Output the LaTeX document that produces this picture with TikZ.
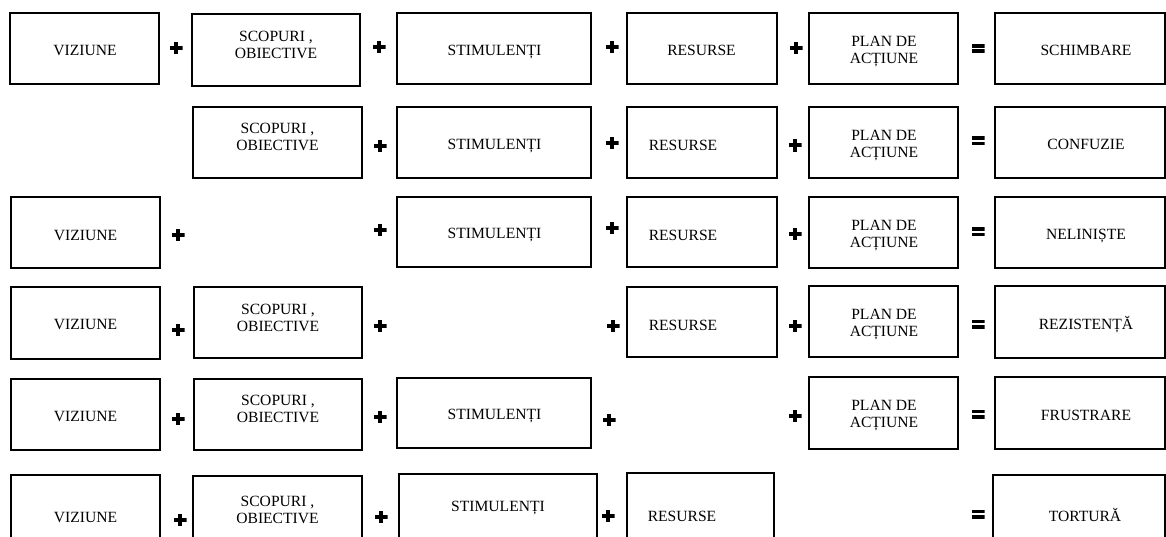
\documentclass[tikz,border=0pt]{standalone}
\usepackage{fontspec}
\setmainfont{Liberation Serif}
% \cellbox{name}{left}{top}{right}{bottom}{text x}{text y}{text style}{text}
\newcommand\cellbox[9]{%
  \node[cell, minimum width={(#4-#2)*1pt}, minimum height={(#5-#3)*1pt}] (#1) at ({(#2+#4)/2},{(#3+#5)/2}) {};
  \node[#8] (#1-t) at (#6,#7) {#9};}
\begin{document}
\begin{tikzpicture}[x=1pt,y=-1pt,
  cell/.style={draw=black, line width=1.2pt, inner sep=0pt, fill=white},
  lbl/.style={inner sep=0pt, font=\fontsize{15.6}{17}\selectfont, text height=10.3pt, text depth=0pt},
  lbltwo/.style={inner sep=0pt, font=\fontsize{15.6}{17}\selectfont, align=center},
  plusop/.style={minimum width=13pt, minimum height=12.5pt, inner sep=0pt,
    path picture={
      \fill ([xshift=-2pt]path picture bounding box.north) rectangle ([xshift=2pt]path picture bounding box.south);
      \fill ([yshift=2pt]path picture bounding box.west) rectangle ([yshift=-2pt]path picture bounding box.east);}},
  eqop/.style={minimum width=13pt, minimum height=9pt, inner sep=0pt,
    path picture={
      \fill (path picture bounding box.north west) rectangle ([yshift=-3.6pt]path picture bounding box.north east);
      \fill (path picture bounding box.south west) rectangle ([yshift=3.6pt]path picture bounding box.south east);}}]
\useasboundingbox (0,0) rectangle (1166,537);
\clip (0,0) rectangle (1166,537);
\fill[white] (0,0) rectangle (1166,537);

% row 1: change
\cellbox{a1}{10}{13}{159}{84}{85}{50}{lbl}{VIZIUNE}
\node[plusop] (p1a) at (176,48) {};
\cellbox{b1}{192}{14}{360}{86}{276}{45}{lbltwo}{SCOPURI ,\\OBIECTIVE}
\node[plusop] (p1b) at (379,47) {};
\cellbox{c1}{397}{13}{591}{84}{494.5}{50}{lbl}{STIMULENȚI}
\node[plusop] (p1c) at (612,47) {};
\cellbox{d1}{627}{13}{777}{84}{701.5}{50}{lbl}{RESURSE}
\node[plusop] (p1d) at (796,48) {};
\cellbox{e1}{809}{13}{958}{84}{884}{51.5}{lbltwo}{PLAN DE\\ACȚIUNE}
\node[eqop] (q1) at (978,48.5) {};
\cellbox{f1}{995}{13}{1165}{84}{1086}{50}{lbl}{SCHIMBARE}

% row 2: no vision
\cellbox{b2}{193}{107}{362}{178}{277.5}{137}{lbltwo}{SCOPURI ,\\OBIECTIVE}
\node[plusop] (p2b) at (380,146) {};
\cellbox{c2}{397}{107}{591}{178}{494.5}{144}{lbl}{STIMULENȚI}
\node[plusop] (p2c) at (612,143) {};
\cellbox{d2}{627}{107}{777}{178}{683}{145.5}{lbl}{RESURSE}
\node[plusop] (p2d) at (795,145.5) {};
\cellbox{e2}{809}{107}{958}{178}{884}{145.5}{lbltwo}{PLAN DE\\ACȚIUNE}
\node[eqop] (q2) at (978,141) {};
\cellbox{f2}{995}{107}{1165}{178}{1086}{144}{lbl}{CONFUZIE}

% row 3: no goals
\cellbox{a3}{11}{197}{160}{268}{85.5}{235}{lbl}{VIZIUNE}
\node[plusop] (p3a) at (178,235) {};
\node[plusop] (p3b) at (380,230) {};
\cellbox{c3}{397}{197}{591}{267}{494.5}{233.5}{lbl}{STIMULENȚI}
\node[plusop] (p3c) at (612,228) {};
\cellbox{d3}{627}{197}{777}{267}{683}{235}{lbl}{RESURSE}
\node[plusop] (p3d) at (795,234) {};
\cellbox{e3}{809}{197}{958}{268}{884}{235.5}{lbltwo}{PLAN DE\\ACȚIUNE}
\node[eqop] (q3) at (978,232) {};
\cellbox{f3}{995}{197}{1165}{268}{1086}{234}{lbl}{NELINIȘTE}

% row 4: no incentives
\cellbox{a4}{11}{287}{160}{359}{85.5}{324.5}{lbl}{VIZIUNE}
\node[plusop] (p4a) at (178,330) {};
\cellbox{b4}{194}{287}{362}{358}{278}{318}{lbltwo}{SCOPURI ,\\OBIECTIVE}
\node[plusop] (p4b) at (380,326) {};
\node[plusop] (p4c) at (613,326) {};
\cellbox{d4}{627}{287}{777}{357}{683}{325}{lbl}{RESURSE}
\node[plusop] (p4d) at (795,326) {};
\cellbox{e4}{809}{286}{958}{357}{884}{324.5}{lbltwo}{PLAN DE\\ACȚIUNE}
\node[eqop] (q4) at (978,324) {};
\cellbox{f4}{995}{286}{1165}{358}{1086}{324}{lbl}{REZISTENȚĂ}

% row 5: no resources
\cellbox{a5}{11}{379}{160}{450}{85.5}{416}{lbl}{VIZIUNE}
\node[plusop] (p5a) at (178,419) {};
\cellbox{b5}{194}{379}{362}{450}{278}{409}{lbltwo}{SCOPURI ,\\OBIECTIVE}
\node[plusop] (p5b) at (380,417) {};
\cellbox{c5}{397}{378}{591}{448}{494.5}{414.5}{lbl}{STIMULENȚI}
\node[plusop] (p5c) at (609,420) {};
\node[plusop] (p5d) at (795,416) {};
\cellbox{e5}{809}{377}{958}{449}{884}{416}{lbltwo}{PLAN DE\\ACȚIUNE}
\node[eqop] (q5) at (978,414) {};
\cellbox{f5}{995}{377}{1165}{449}{1086}{415}{lbl}{FRUSTRARE}

% row 6: no action plan
\cellbox{a6}{11}{475}{160}{560}{85.5}{517}{lbl}{VIZIUNE}
\node[plusop] (p6a) at (180,520) {};
\cellbox{b6}{193}{476}{362}{560}{277.5}{510}{lbltwo}{SCOPURI ,\\OBIECTIVE}
\node[plusop] (p6b) at (381,517) {};
\cellbox{c6}{399}{474}{597}{560}{498}{506}{lbl}{STIMULENȚI}
\node[plusop] (p6c) at (608,516) {};
\cellbox{d6}{627}{473}{774}{560}{682}{516.5}{lbl}{RESURSE}
\node[eqop] (q6) at (978,514) {};
\cellbox{f6}{993}{475}{1165}{560}{1085}{516}{lbl}{TORTURĂ}
\end{tikzpicture}
\end{document}
